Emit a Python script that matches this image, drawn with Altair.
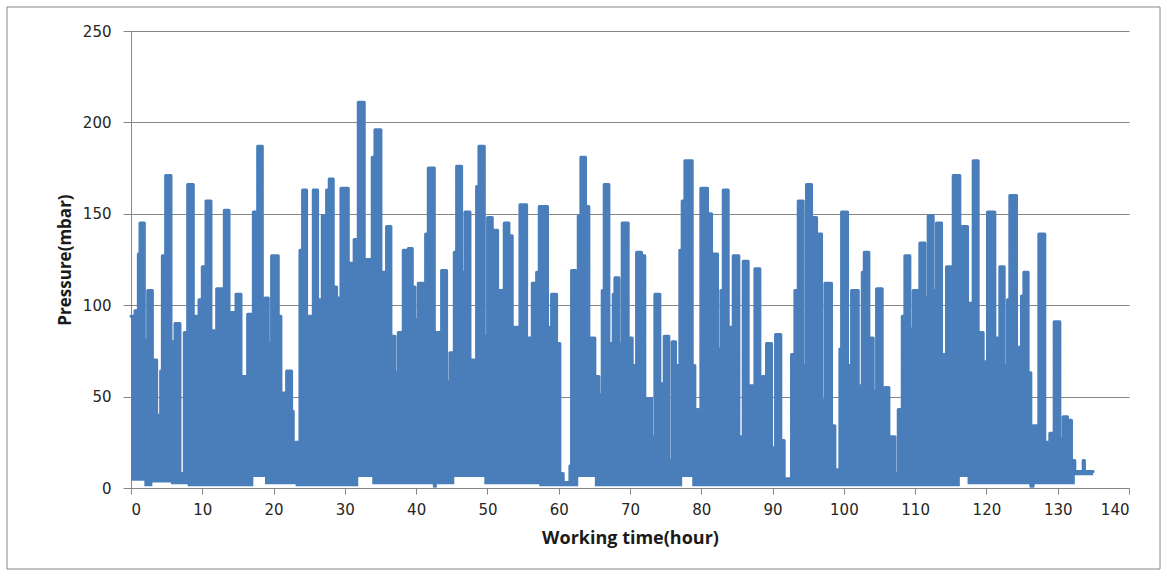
import altair as alt
import pandas as pd

# Start time (hour) of each level of the pressure trace
hours = [0.0, 0.56, 1.03, 1.26, 1.87, 2.34, 3.0, 3.6, 3.84, 4.16, 4.40, 4.86, 5.61, 6.17, 6.87, 7.48, 7.95,
         8.74, 9.21, 9.54, 10.0, 10.52, 11.22, 11.69, 12.02, 13.09, 13.75, 14.03, 14.73, 15.43, 16.36, 17.16,
         17.77, 18.42, 18.8, 19.26, 19.72, 20.66, 21.03, 21.83, 22.53, 22.76, 23.09, 23.7, 24.07, 24.63, 25.57,
         26.18, 26.83, 27.44, 27.81, 28.37, 28.84, 29.45, 30.48, 31.18, 31.3, 31.88, 32.72, 33.84, 34.22, 35.06,
         35.85, 36.46, 37.02, 37.49, 38.19, 38.9, 39.46, 39.83, 40.3, 41.0, 41.33, 41.7, 42.55, 42.7, 43.57,
         44.27, 44.74, 45.35, 45.68, 46.38, 46.85, 47.55, 48.15, 48.48, 48.81, 49.56, 50.02, 50.68, 51.43, 52.36,
         53.02, 53.48, 54.56, 55.5, 56.29, 56.9, 57.27, 58.43, 59.0, 59.7, 60.16, 60.63, 61.57, 61.8, 62.36,
         62.74, 63.11, 63.76, 64.23, 65.07, 65.63, 66.1, 66.38, 67.04, 67.64, 67.88, 68.44, 68.9, 69.75, 70.31,
         70.92, 71.62, 72.08, 73.02, 73.49, 74.19, 74.8, 75.45, 75.92, 76.39, 76.99, 77.32, 77.7, 78.73, 79.1,
         79.57, 79.94, 80.88, 81.44, 82.28, 82.75, 83.08, 83.78, 84.48, 85.27, 85.88, 86.58, 87.28, 87.52, 88.22,
         88.55, 89.15, 89.86, 90.42, 91.16, 91.63, 92.66, 93.13, 93.6, 94.3, 94.76, 95.47, 96.17, 96.87, 97.34,
         98.27, 98.74, 99.44, 99.68, 100.52, 101.08, 102.02, 102.58, 102.86, 103.51, 104.12, 104.59, 105.38,
         105.76, 106.32, 107.16, 107.63, 108.19, 108.56, 109.26, 109.73, 110.34, 110.66, 111.37, 111.83, 112.53,
         113.0, 113.7, 114.4, 115.34, 116.27, 116.6, 117.35, 118.14, 118.84, 119.54, 120.15, 121.18, 121.88,
         122.49, 122.95, 123.28, 124.22, 124.92, 125.25, 125.85, 126.23, 126.55, 127.35, 128.19, 128.89, 129.5,
         130.3, 130.76, 131.37, 131.93, 132.4, 133.57, 133.75, 134.97]

# Upper pressure level (mbar) of the trace in each of those intervals
pressure_top = [94, 97, 128, 145, 81, 108, 70, 40, 19, 64, 127, 171, 80, 90, 8, 85, 166,
                94, 68, 103, 121, 157, 86, 54, 109, 152, 61, 96, 106, 61, 95, 151,
                187, 78, 104, 79, 127, 94, 52, 64, 42, 12, 25, 130, 163, 94, 163,
                103, 149, 163, 169, 110, 104, 164, 123, 21, 136, 211, 125, 181, 196, 118,
                143, 83, 63, 85, 130, 131, 110, 92, 112, 79, 139, 175, 1, 85, 119,
                58, 74, 129, 176, 118, 151, 70, 38, 165, 187, 83, 148, 141, 108, 145,
                138, 88, 155, 82, 112, 118, 154, 88, 106, 79, 8, 3, 12, 119, 108,
                149, 181, 154, 82, 61, 51, 108, 166, 79, 106, 115, 79, 145, 82, 67,
                129, 127, 49, 28, 106, 57, 83, 15, 80, 67, 130, 157, 179, 67, 43,
                12, 164, 150, 128, 76, 108, 163, 88, 127, 28, 124, 56, 43, 120, 56,
                61, 79, 22, 84, 26, 5, 73, 108, 157, 67, 166, 148, 139, 48, 112,
                34, 10, 76, 151, 67, 108, 56, 118, 129, 82, 53, 109, 40,
                55, 28, 8, 43, 94, 127, 87, 108, 90, 134, 104, 149, 108,
                145, 73, 121, 171, 101, 143, 101, 179, 85, 69, 151, 82, 121,
                67, 103, 160, 77, 105, 118, 63, 1, 34, 139, 25, 30, 91,
                27, 39, 37, 15, 9, 15, 9, 9]

# Lower level (mbar) of the trace, by time segment
low_hours = [0, 1.5, 3, 5.5, 7.5, 17, 18.5, 23, 31.5, 33.5, 45, 49, 57, 62.5, 64.5, 77, 78.5, 115.5, 117, 132]
low_values = [4, 1, 3, 2, 1, 6, 2, 1, 6, 2, 6, 2, 1, 6, 1, 6, 1, 6, 2, 7]

x_ticks = [0, 10, 20, 30, 40, 50, 60, 70, 80, 90, 100, 110, 120, 130, 140]
y_ticks = [0, 50, 100, 150, 200, 250]

df = pd.DataFrame({"hour": hours, "top": pressure_top})
low = pd.DataFrame({"hour": [float(h) for h in low_hours], "low": low_values})
df = pd.merge_asof(df.sort_values("hour"), low, on="hour")

BLUE = "#4A7EBB"
GREY = "#868686"

x_enc = alt.X("hour:Q", scale=alt.Scale(domain=[0, 140], nice=False),
              axis=alt.Axis(values=x_ticks, title="Working time(hour)", grid=False,
                            tickSize=6, labelPadding=8, titlePadding=12,
                            labelFont="DejaVu Sans", labelFontSize=15, labelColor="#262626",
                            titleFont="Open Sans", titleFontSize=18, titleFontWeight="bold",
                            titleColor="#1a1a1a"))
y_enc = alt.Y("top:Q", scale=alt.Scale(domain=[0, 250], nice=False),
              axis=alt.Axis(values=y_ticks, title="Pressure(mbar)", grid=True,
                            tickSize=8, labelPadding=12, titlePadding=8,
                            labelFont="DejaVu Sans", labelFontSize=15, labelColor="#262626",
                            titleFont="Open Sans", titleFontSize=17, titleFontWeight="bold",
                            titleColor="#1a1a1a"))

area = alt.Chart(df).mark_area(interpolate="step-after", color=BLUE, opacity=1).encode(
    x=x_enc, y=y_enc, y2="low:Q")
line = alt.Chart(df).mark_line(interpolate="step-after", color=BLUE, strokeWidth=3,
                               strokeJoin="round", strokeCap="round").encode(
    x="hour:Q", y="top:Q")

frame = alt.Chart(pd.DataFrame({"a": [0]})).mark_rect(
    fill=None, stroke=GREY, strokeWidth=1).encode(
    x=alt.value(-124), x2=alt.value(1029), y=alt.value(-24), y2=alt.value(538))

chart = alt.layer(frame, area, line).properties(
    width=998, height=457,
    background="white",
    autosize=alt.AutoSizeParams(type="none"),
    padding={"left": 131, "top": 31, "right": 38, "bottom": 87},
).configure_view(stroke=None).configure_axis(
    domainColor=GREY, tickColor=GREY, gridColor=GREY, gridWidth=1,
)

chart.save("out.html", embed_options={"renderer": "svg", "actions": False})
